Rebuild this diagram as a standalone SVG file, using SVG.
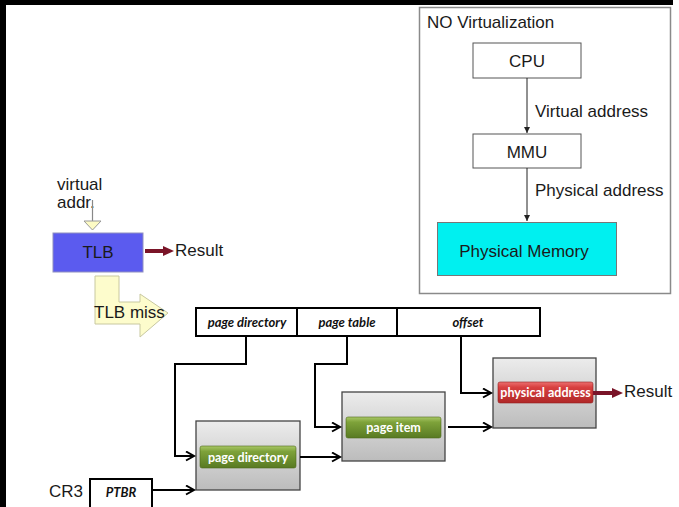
<svg xmlns="http://www.w3.org/2000/svg" width="679" height="507" viewBox="0 0 679 507">
<style>
.a{font-family:"Liberation Sans",Arial,sans-serif;fill:#1a1a1a;font-size:17px}
.fld{font-family:Lato,"Open Sans",sans-serif;font-weight:bold;font-style:italic;font-size:13px;fill:#111;text-anchor:middle}
.btn{font-family:Lato,"Open Sans",sans-serif;font-weight:bold;font-size:12.5px;fill:#fff;text-anchor:middle}
.k{fill:none;stroke:#000;stroke-width:2}
.gbox{fill:url(#gg);stroke:#444;stroke-width:1.3}
</style>
<defs>
<linearGradient id="gg" x1="0" y1="0" x2="0" y2="1">
<stop offset="0" stop-color="#ececec"/><stop offset="1" stop-color="#bcbcbc"/>
</linearGradient>
<linearGradient id="gr" x1="0" y1="0" x2="0" y2="1">
<stop offset="0" stop-color="#a9c866"/><stop offset="0.25" stop-color="#7ea23a"/><stop offset="1" stop-color="#587a22"/>
</linearGradient>
<linearGradient id="rd" x1="0" y1="0" x2="0" y2="1">
<stop offset="0" stop-color="#ec7070"/><stop offset="0.25" stop-color="#d84040"/><stop offset="1" stop-color="#b02828"/>
</linearGradient>
<marker id="ah" markerWidth="12" markerHeight="12" refX="9" refY="5" orient="auto" markerUnits="userSpaceOnUse">
<polyline points="1,0.5 9,5 1,9.5" fill="none" stroke="#000" stroke-width="2"/>
</marker>
<marker id="sm" markerWidth="8" markerHeight="8" refX="6" refY="3" orient="auto" markerUnits="userSpaceOnUse">
<path d="M0,0 L6,3 L0,6 Z" fill="#222"/>
</marker>
</defs>
<rect x="0" y="0" width="679" height="507" fill="#fff"/>
<rect x="0" y="0" width="673" height="5" fill="#000"/>
<rect x="0" y="0" width="6" height="507" fill="#000"/>

<g id="novirt">
<rect x="419.5" y="7.5" width="251" height="286" fill="none" stroke="#8a8a8a" stroke-width="1.5"/>
<text class="a" x="427" y="28">NO Virtualization</text>
</g>
<g id="cpu">
<rect x="473" y="43" width="108" height="35" fill="#fff" stroke="#555" stroke-width="1"/>
<text class="a" x="527" y="67" text-anchor="middle">CPU</text>
</g>
<g id="mmu">
<rect x="473" y="134" width="108" height="34" fill="#fff" stroke="#555" stroke-width="1"/>
<text class="a" x="527" y="158" text-anchor="middle">MMU</text>
</g>
<g id="physmem">
<rect x="437.5" y="222.5" width="179" height="53" fill="#00f0f0" stroke="#777" stroke-width="1"/>
<text class="a" x="524" y="257" font-size="17.5" text-anchor="middle">Physical Memory</text>
</g>

<g id="tlb">
<rect x="53" y="233" width="90" height="39" fill="#5b5bef" stroke="#9090c0" stroke-width="1"/>
<text class="a" x="98" y="258" text-anchor="middle">TLB</text>
</g>
<g id="vaddr">
<text class="a" x="57" y="190" fill="#333">virtual</text>
<text class="a" x="57" y="208" fill="#333">addr.</text>
<line x1="92.5" y1="200" x2="92.5" y2="221" stroke="#888" stroke-width="1.2"/>
<polygon points="84,221 101,221 92.5,230" fill="#fdfbc4" stroke="#999" stroke-width="1"/>
</g>
<g id="tlbmiss">
<path d="M95,276 H119 V302 H140 V294 L168,313 L140,337 V324 H95 Z" fill="#fdfccc" stroke="#c8c8a0" stroke-width="1"/>
<text class="a" x="94" y="318">TLB miss</text>
</g>
<g id="result1">
<path d="M145,251 H164" stroke="#7a1428" stroke-width="4"/>
<polygon points="163,246 174,251 163,256" fill="#7a1428"/>
<text class="a" x="175" y="256">Result</text>
</g>

<g id="fields">
<rect x="196" y="308" width="344" height="28" fill="#fff" stroke="#000" stroke-width="2"/>
<line x1="297" y1="308" x2="297" y2="336" stroke="#000" stroke-width="2"/>
<line x1="397" y1="308" x2="397" y2="336" stroke="#000" stroke-width="2"/>
<text class="fld" x="247" y="327">page directory</text>
<text class="fld" x="347" y="327">page table</text>
<text class="fld" x="468" y="327">offset</text>
</g>

<g id="pagedir">
<rect class="gbox" x="196" y="421" width="104" height="69"/>
<rect x="200" y="446" width="96" height="22" rx="2" fill="url(#gr)" stroke="#4d6a1c" stroke-width="0.6"/>
<text class="btn" x="248" y="461.5">page directory</text>
</g>
<g id="pageitem">
<rect class="gbox" x="342" y="392" width="103" height="69"/>
<rect x="346" y="417" width="95" height="21" rx="2" fill="url(#gr)" stroke="#4d6a1c" stroke-width="0.6"/>
<text class="btn" x="393.5" y="432">page item</text>
</g>
<g id="physaddr">
<rect class="gbox" x="493" y="358" width="103" height="70"/>
<rect x="498" y="382" width="95" height="21" rx="2" fill="url(#rd)" stroke="#902020" stroke-width="0.6"/>
<text class="btn" x="545.5" y="397" font-size="11.5">physical address</text>
</g>
<g id="result2">
<path d="M593,393 H613" stroke="#7a1428" stroke-width="4"/>
<polygon points="612,388 623,393 612,398" fill="#7a1428"/>
<text class="a" x="624" y="397">Result</text>
</g>
<g id="cr3">
<text class="a" x="49" y="497">CR3</text>
<rect x="90" y="479" width="62" height="32" fill="#fff" stroke="#000" stroke-width="2"/>
<text class="fld" x="121" y="497" font-size="12">PTBR</text>
</g>

<g id="connectors">
<line x1="527" y1="78" x2="527" y2="133" stroke="#222" stroke-width="1" marker-end="url(#sm)"/>
<text class="a" x="535" y="117">Virtual address</text>
<line x1="527" y1="168" x2="527" y2="221" stroke="#222" stroke-width="1" marker-end="url(#sm)"/>
<text class="a" x="535" y="196">Physical address</text>
<polyline class="k" points="246,336 246,364 175,364 175,456 194,456" marker-end="url(#ah)"/>
<polyline class="k" points="347,336 347,364 315,364 315,427 340,427" marker-end="url(#ah)"/>
<polyline class="k" points="461,336 461,393 491,393" marker-end="url(#ah)"/>
<line class="k" x1="300" y1="457" x2="340" y2="457" marker-end="url(#ah)"/>
<line class="k" x1="448" y1="427" x2="491" y2="427" marker-end="url(#ah)"/>
<line class="k" x1="153" y1="490" x2="194" y2="490" marker-end="url(#ah)"/>
</g>
</svg>
